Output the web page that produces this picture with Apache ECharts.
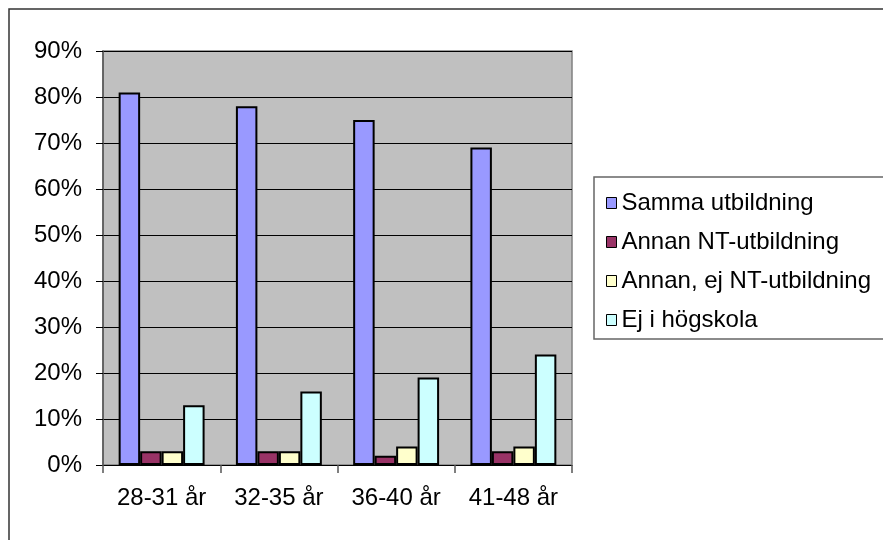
<!DOCTYPE html>
<html><head><meta charset="utf-8">
<script src="https://cdn.jsdelivr.net/npm/echarts@6/dist/echarts.min.js"></script>
<style>html,body{margin:0;padding:0;background:#fff}#c{width:883px;height:540px}</style>
</head><body><div id="c"></div>
<script>
const categories = ['28-31 år', '32-35 år', '36-40 år', '41-48 år'];
const seriesNames = ['Samma utbildning', 'Annan NT-utbildning', 'Annan, ej NT-utbildning', 'Ej i högskola'];
const samma = [81, 78, 75, 69];
const annanNT = [3, 3, 2, 3];
const annanEjNT = [3, 3, 4, 4];
const ejHogskola = [13, 16, 19, 24];
const yTicks = [0, 10, 20, 30, 40, 50, 60, 70, 80, 90];
const colors = ['#9999ff', '#993366', '#ffffcc', '#ccffff'];
const values = [samma, annanNT, annanEjNT, ejHogskola];

const font = "'Liberation Sans', Arial, sans-serif";
const chart = echarts.init(document.getElementById('c'), null, {renderer: 'canvas'});
chart.setOption({
  animation: false,
  backgroundColor: '#ffffff',
  graphic: [
    {type: 'rect', shape: {x: 9, y: 9, width: 900, height: 560}, style: {fill: 'none', stroke: '#333', lineWidth: 1.5}, z: 0},
    {type: 'rect', shape: {x: 594, y: 177, width: 320, height: 162}, style: {fill: '#fff', stroke: '#666', lineWidth: 1.5}, z: 0}
  ],
  grid: {left: 103, top: 51, right: 311, bottom: 75, show: true, backgroundColor: '#c0c0c0', borderColor: '#808080', borderWidth: 1.5},
  legend: {
    orient: 'vertical', left: 601, top: 186, itemWidth: 10, itemHeight: 11, itemGap: 15,
    icon: 'rect',
    data: seriesNames,
    textStyle: {fontFamily: font, fontSize: 24, color: '#000', lineHeight: 24},
    itemStyle: {borderColor: '#000', borderWidth: 1}
  },
  xAxis: {
    type: 'category', data: categories, boundaryGap: true,
    axisLine: {lineStyle: {color: '#000', width: 1}},
    axisTick: {show: true, length: 8, lineStyle: {color: '#555', width: 1.5}},
    axisLabel: {fontFamily: font, fontSize: 24, color: '#000', margin: 21, interval: 0}
  },
  yAxis: {
    type: 'value', min: 0, max: 90, interval: 10,
    axisLine: {show: true, lineStyle: {color: '#555', width: 1.5}},
    axisTick: {show: true, length: 7, lineStyle: {color: '#000'}},
    axisLabel: {fontFamily: font, fontSize: 24, color: '#000', margin: 21,
      formatter: v => yTicks.includes(v) ? v + '%' : ''},
    splitLine: {show: true, lineStyle: {color: '#000', width: 1}}
  },
  series: seriesNames.map((n, i) => ({
    name: n, type: 'bar', data: values[i],
    barGap: '0%', barCategoryGap: '26.7%',
    itemStyle: {color: colors[i], borderColor: '#000', borderWidth: 2}
  }))
});
</script></body></html>
